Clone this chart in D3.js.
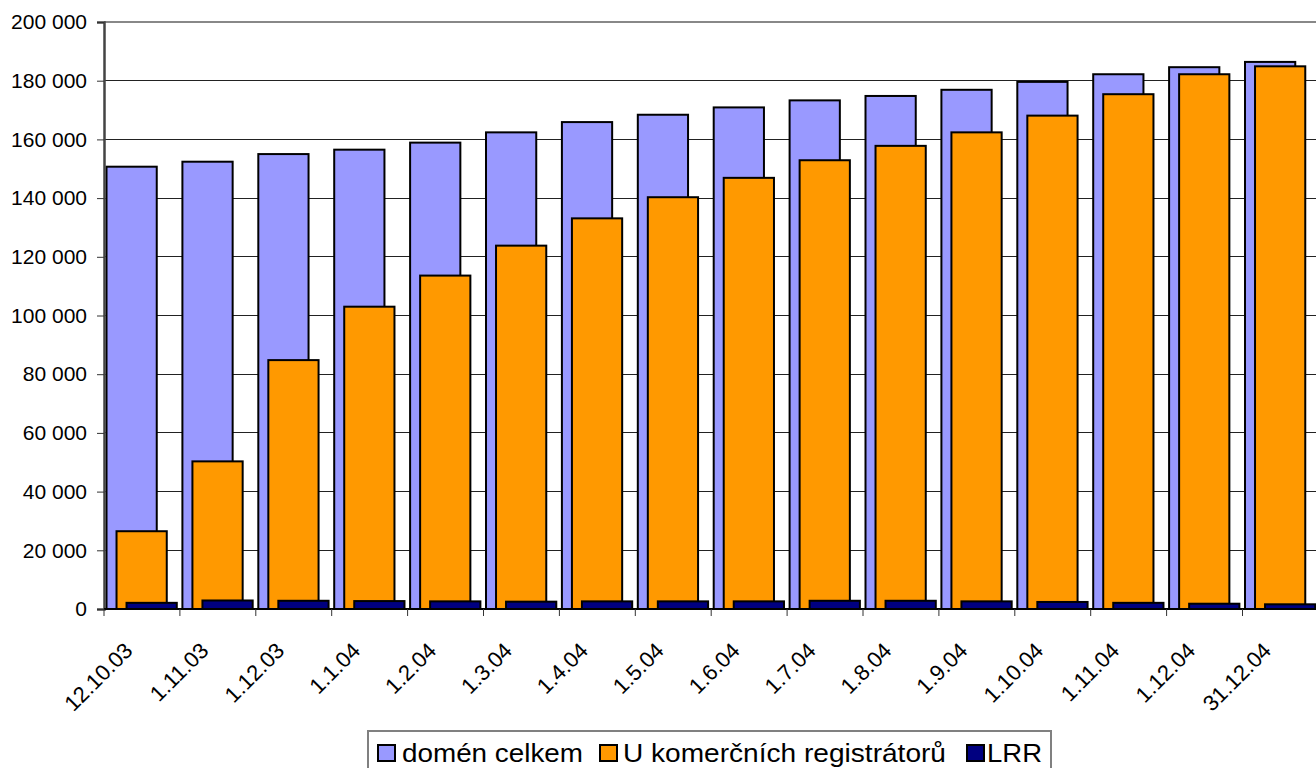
<!DOCTYPE html>
<html>
<head>
<meta charset="utf-8">
<script src="https://cdn.jsdelivr.net/npm/d3@7"></script>
<style>
html,body{margin:0;padding:0;background:#fff;overflow:hidden;}
svg{display:block;font-family:"Liberation Sans",Arial,sans-serif;}
</style>
</head>
<body>
<svg id="chart" width="1316" height="768"></svg>
<script>
const categories = ["12.10.03","1.11.03","1.12.03","1.1.04","1.2.04","1.3.04","1.4.04","1.5.04","1.6.04","1.7.04","1.8.04","1.9.04","1.10.04","1.11.04","1.12.04","31.12.04"];
const totalDomains = [150700,152400,155000,156500,158900,162400,165900,168400,170900,173300,174800,176900,179600,182200,184600,186400];
const commercial = [26500,50300,84800,103000,113600,123800,133100,140300,146900,152900,157800,162400,168100,175400,182200,184900];
const lrr = [2100,2900,2800,2700,2600,2500,2600,2600,2600,2800,2800,2600,2400,2100,1800,1600];
const yTicks = [0,20000,40000,60000,80000,100000,120000,140000,160000,180000,200000];
const seriesNames = ["domén celkem","U komerčních registrátorů","LRR"];
const seriesColors = ["#9999FF","#FF9900","#000080"];

(function(){
const svg = d3.select("#chart");
const pLeft = 104, pTop = 22, pBottom = 609, pRight = 104 + 16*75.9;

const x = d3.scaleBand().domain(categories).range([pLeft, pRight]).paddingInner(0).paddingOuter(0);
const y = d3.scaleLinear().domain([0,200000]).range([pBottom, pTop]);

// gridlines
svg.append("g").selectAll("line").data(yTicks.filter(d=>d>0 && d<200000)).join("line")
  .attr("x1", pLeft).attr("x2", 1316).attr("y1", d=>y(d)).attr("y2", d=>y(d))
  .attr("stroke", "#222").attr("stroke-width", 1).attr("shape-rendering","crispEdges");
svg.append("line").attr("x1", pLeft).attr("x2", 1316).attr("y1", y(200000)).attr("y2", y(200000))
  .attr("stroke", "#888").attr("stroke-width", 2);

const bw = x.bandwidth();
const barW = bw * 0.662, off0 = bw * 0.033, step = bw * 0.132;
const series = [totalDomains, commercial, lrr];
series.forEach((vals, si) => {
  svg.append("g").selectAll("rect").data(vals).join("rect")
    .attr("x", (d,i) => x(categories[i]) + off0 + si*step)
    .attr("y", d => y(d))
    .attr("width", barW)
    .attr("height", d => pBottom - y(d))
    .attr("fill", seriesColors[si])
    .attr("stroke", "#000").attr("stroke-width", 2);
});

// y axis
const yAxis = d3.axisLeft(y).tickValues(yTicks).tickSize(7).tickPadding(10)
  .tickFormat(d => d3.format(",")(d).replace(/,/g, " "));
const ga = svg.append("g").attr("transform", `translate(${pLeft},0)`).call(yAxis);
ga.attr("font-family", "'Liberation Sans', Arial, sans-serif");
ga.select(".domain").attr("stroke", "#444").attr("stroke-width", 2.5);
ga.selectAll(".tick line").attr("stroke", "#333");
ga.selectAll("text").attr("font-size", 21).attr("fill", "#000");

// x axis
svg.append("line").attr("x1", pLeft).attr("x2", 1316).attr("y1", pBottom).attr("y2", pBottom)
  .attr("stroke", "#000").attr("stroke-width", 2);
svg.append("g").selectAll("line").data(categories.concat(["__end"])).join("line")
  .attr("x1", (d,i) => pLeft + i*bw).attr("x2", (d,i) => pLeft + i*bw)
  .attr("y1", pBottom).attr("y2", pBottom + 7)
  .attr("stroke", "#333").attr("stroke-width", 1);
svg.append("g").selectAll("text").data(categories).join("text")
  .attr("transform", d => `translate(${x(d) + bw/2 - 8},652) rotate(-45)`)
  .attr("text-anchor", "end")
  .attr("font-size", 22)
  .attr("fill", "#000")
  .text(d => d);

// legend
const lg = svg.append("g");
lg.append("rect").attr("x", 368).attr("y", 731).attr("width", 683).attr("height", 50)
  .attr("fill", "#fff").attr("stroke", "#808080").attr("stroke-width", 2);
const legendItems = [
  {sq: 378, tx: 402, tw: 181},
  {sq: 600, tx: 623, tw: 323},
  {sq: 967, tx: 987, tw: 55}
];
legendItems.forEach((it, i) => {
  lg.append("rect").attr("x", it.sq).attr("y", 745).attr("width", 17).attr("height", 16)
    .attr("fill", seriesColors[i]).attr("stroke", "#000").attr("stroke-width", 2);
  lg.append("text").attr("x", it.tx).attr("y", 762)
    .attr("font-size", 25).attr("fill", "#000")
    .attr("textLength", it.tw).attr("lengthAdjust", "spacingAndGlyphs")
    .text(seriesNames[i]);
});
})();
</script>
</body>
</html>
